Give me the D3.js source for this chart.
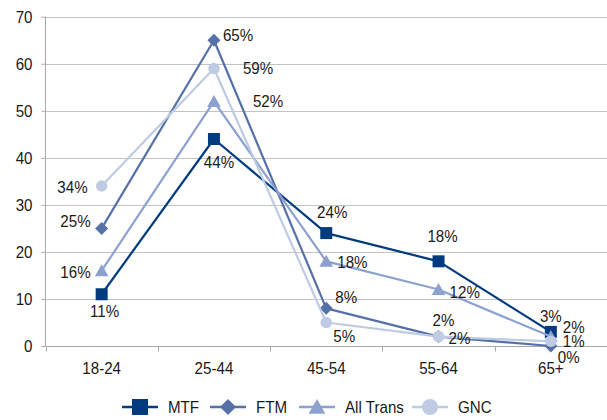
<!DOCTYPE html>
<html>
<head>
<meta charset="utf-8">
<script src="https://cdn.jsdelivr.net/npm/d3@7"></script>
<style>
  html, body { margin: 0; padding: 0; background: #fff; }
  svg { display: block; }
  text { font-family: "Liberation Sans", Arial, sans-serif; fill: #1a1a1a; }
</style>
</head>
<body>
<svg id="chart" width="607" height="420"></svg>
<script>
// ---- data ----
const categories = ["18-24", "25-44", "45-54", "55-64", "65+"];
const seriesNames = ["MTF", "FTM", "All Trans", "GNC"];
const mtf      = [11, 44, 24, 18, 3];
const ftm      = [25, 65, 8, 2, 0];
const allTrans = [16, 52, 18, 12, 2];
const gnc      = [34, 59, 5, 2, 1];
const yTicks   = [0, 10, 20, 30, 40, 50, 60, 70];

// ---- styling / label placement (not data) ----
const FONT = "'Liberation Sans', Arial, sans-serif";
const FS = "17px";
const SQUEEZE = 0.89;
const colors  = ["#003b7f", "#5670a8", "#8ca1cf", "#bfcae3"];
const symbols = ["square", "diamond", "triangle", "circle"];
// [dx, dy, anchor] relative to point
const labelPlacement = [
  [[3, 23, "middle"], [5, 29, "middle"], [6, -15, "middle"], [4, -19, "middle"], [0, -10, "middle"]],
  [[-11, -1, "end"], [9, 1, "start"], [9, -5, "start"], [5, -11, "middle"], [7, 17, "start"]],
  [[-11, 7, "end"], [39, 6, "start"], [11, 7, "start"], [11, 8, "start"], [12, -4, "start"]],
  [[-14, 7, "end"], [29, 6, "start"], [7, 20, "start"], [10, 7, "start"], [12, 6, "start"]]
];

const seriesValues = [mtf, ftm, allTrans, gnc];
const svg = d3.select("#chart");

const x = d3.scaleBand().domain(categories).range([45.5, 607]).padding(0);
const y = d3.scaleLinear().domain([0, 70]).range([346, 16.7]);
const cx = c => x(c) + x.bandwidth() / 2;

// gridlines
svg.append("g").selectAll("line").data(yTicks.filter(t => t > 0)).join("line")
  .attr("x1", 45.5).attr("x2", 607)
  .attr("y1", d => Math.round(y(d)) + 0.5).attr("y2", d => Math.round(y(d)) + 0.5)
  .attr("stroke", "#c3c3c3").attr("stroke-width", 1);

// y axis
const yAxis = d3.axisLeft(y).tickValues(yTicks).tickSize(4).tickPadding(9).tickFormat(d3.format("d"));
const gy = svg.append("g").attr("transform", "translate(45.5,0)").call(yAxis);
gy.select(".domain").attr("stroke", "#a8a8a8").attr("d", `M0,${y(70)}V${y(0)}`);
gy.selectAll(".tick line").attr("stroke", "#a8a8a8");
gy.selectAll(".tick text").style("font-size", FS).attr("fill", "#1a1a1a")
  .style("font-family", FONT);

// x axis
const xAxis = d3.axisBottom(x).tickSize(0).tickPadding(15);
const gx = svg.append("g").attr("transform", `translate(0,${Math.round(y(0)) + 0.5})`).call(xAxis);
gx.select(".domain").attr("stroke", "#a8a8a8").attr("d", `M45.5,0H607`);
gx.selectAll(".tick text").style("font-size", FS).attr("fill", "#1a1a1a")
  .style("font-family", FONT);
// x tick marks at category boundaries
const bounds = categories.map(c => x(c)).concat([x(categories[categories.length - 1]) + x.bandwidth()]);
gx.append("g").selectAll("line").data(bounds).join("line")
  .attr("x1", d => Math.round(d) + 0.5).attr("x2", d => Math.round(d) + 0.5)
  .attr("y1", 0).attr("y2", 5).attr("stroke", "#a8a8a8");

// symbol generator
function symbolPath(kind, size) {
  const s = size / 2;
  if (kind === "square") return `M${-s},${-s}H${s}V${s}H${-s}Z`;
  if (kind === "diamond") return `M0,${-s}L${s},0L0,${s}L${-s},0Z`;
  if (kind === "triangle") return `M0,${-s}L${s * 1.05},${s * 0.85}L${-s * 1.05},${s * 0.85}Z`;
  return d3.symbol().type(d3.symbolCircle).size(Math.PI * s * s)();
}
const markerSize = [12, 13, 13, 11.5];

const line = d3.line().x((d, i) => cx(categories[i])).y(d => y(d));

seriesValues.forEach((vals, si) => {
  const g = svg.append("g");
  g.append("path").datum(vals).attr("d", line)
    .attr("fill", "none").attr("stroke", colors[si]).attr("stroke-width", 2.2)
    .attr("stroke-linejoin", "round");
  g.selectAll("path.m").data(vals).join("path").attr("class", "m")
    .attr("transform", (d, i) => `translate(${cx(categories[i])},${y(d)})`)
    .attr("d", symbolPath(symbols[si], markerSize[si]))
    .attr("fill", colors[si]);
});

// data labels
seriesValues.forEach((vals, si) => {
  svg.append("g").selectAll("text").data(vals).join("text")
    .attr("x", (d, i) => cx(categories[i]) + labelPlacement[si][i][0])
    .attr("y", (d, i) => y(d) + labelPlacement[si][i][1])
    .attr("text-anchor", (d, i) => labelPlacement[si][i][2])
    .style("font-size", FS)
    .text(d => d + "%");
});

// legend
const legendX = [140, 228, 317, 430];
const legend = svg.append("g");
seriesNames.forEach((name, si) => {
  const g = legend.append("g").attr("transform", `translate(${legendX[si]},407)`);
  g.append("line").attr("x1", -18).attr("x2", 18).attr("y1", 0).attr("y2", 0)
    .attr("stroke", colors[si]).attr("stroke-width", 2.5);
  g.append("path").attr("d", symbolPath(symbols[si], 16)).attr("fill", colors[si]);
  g.append("text").attr("x", 28).attr("y", 6).style("font-size", FS).text(name);
});

// condense all text horizontally (reference uses a condensed face)
svg.selectAll("text").each(function() {
  const w = this.getComputedTextLength();
  this.setAttribute("textLength", (w * SQUEEZE).toFixed(2));
  this.setAttribute("lengthAdjust", "spacingAndGlyphs");
});
</script>
</body>
</html>
